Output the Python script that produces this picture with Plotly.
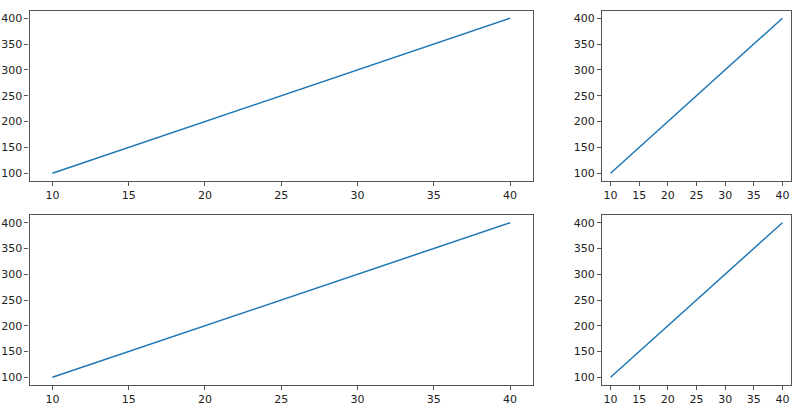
import plotly.graph_objects as go

x_vals = [10, 20, 30, 40]
y_vals = [100, 200, 300, 400]
x_ticks = [10, 15, 20, 25, 30, 35, 40]
y_ticks = [100, 150, 200, 250, 300, 350, 400]

W, H = 800, 411

def dom_x(a, b):
    return [a / W, b / W]

def dom_y(top, bottom):
    return [1 - bottom / H, 1 - top / H]

panels = [
    (dom_x(29.5, 533), dom_y(10.5, 181)),
    (dom_x(602, 791), dom_y(10.5, 181)),
    (dom_x(29.5, 533), dom_y(215, 385)),
    (dom_x(602, 791), dom_y(215, 385)),
]

fig = go.Figure()
layout = dict(width=W, height=H, margin=dict(l=0, r=0, t=0, b=0),
              paper_bgcolor="white", plot_bgcolor="white", showlegend=False,
              font=dict(family="DejaVu Sans", size=11, color="#222"))

for i, (xd, yd) in enumerate(panels, start=1):
    sfx = "" if i == 1 else str(i)
    fig.add_trace(go.Scatter(x=x_vals, y=y_vals, mode="lines",
                             line=dict(color="#1f77b4", width=1.5),
                             xaxis="x" + sfx, yaxis="y" + sfx))
    common = dict(showgrid=False, zeroline=False, showline=True, mirror=True,
                  linecolor="#555", linewidth=1.2, ticks="outside", ticklen=4,
                  tickwidth=1, tickcolor="#555", tickfont=dict(size=11, color="#222"))
    layout["xaxis" + sfx] = dict(domain=xd, range=[8.5, 41.5], tickmode="array",
                                 tickvals=x_ticks, anchor="y" + sfx, **common)
    layout["yaxis" + sfx] = dict(domain=yd, range=[85, 415], tickmode="array",
                                 tickvals=y_ticks, anchor="x" + sfx, **common)

fig.update_layout(**layout)
fig.write_html("out.html", config={"displayModeBar": False},
               post_script="document.body.style.margin='0px';document.body.style.overflow='hidden';")
